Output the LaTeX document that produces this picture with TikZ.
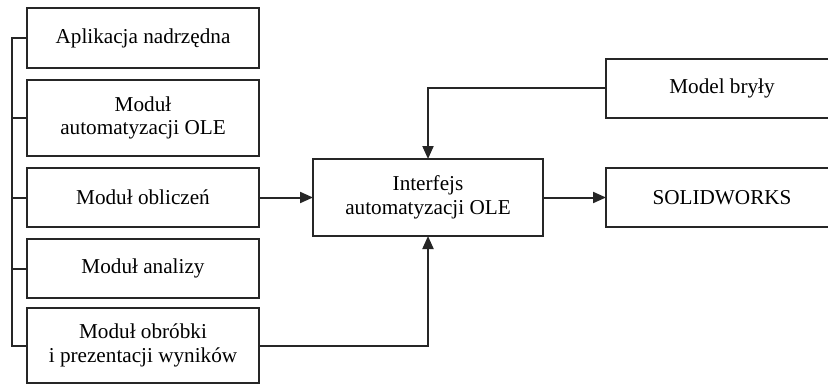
\documentclass[tikz,border=0pt]{standalone}
\usepackage{fontspec}
\setmainfont{Liberation Serif}
\usetikzlibrary{arrows.meta}
\tikzset{modbox/.style={draw=black!85, line width=1pt, fill=white, inner sep=0pt, outer sep=0pt,
    align=center, font=\fontsize{10.6}{11.8}\selectfont, minimum width=116pt},
  conn/.style={draw=black!85, line width=1pt},
  arr/.style={conn, -{Triangle[length=6.5pt,width=5.5pt]}}}

\begin{document}
\begin{tikzpicture}[x=0.5pt,y=-0.5pt]
\useasboundingbox (0,0) rectangle (828,385);
% modules on the left
\node[modbox, minimum height=30pt] (app) at (143,38) {Aplikacja nadrzędna};
\node[modbox, minimum height=38pt] (ole) at (143,118) {Moduł\\automatyzacji OLE};
\node[modbox, minimum height=29.5pt] (obl) at (143,197.5) {Moduł obliczeń};
\node[modbox, minimum height=29.5pt] (ana) at (143,268.5) {Moduł analizy};
\node[modbox, minimum height=37.5pt] (obr) at (143,345.5) {Moduł obróbki\\i prezentacji wyników};
% middle and right
\node[modbox, minimum width=115pt, minimum height=38.5pt] (intf) at (428,197.5) {Interfejs\\automatyzacji OLE};
\node[modbox, minimum height=29.5pt] (model) at (722,88.5) {Model bryły};
\node[modbox, minimum height=29.5pt] (sw) at (722,197.5) {SOLIDWORKS};

% bus
\draw[conn] (app.west) -- ++(-15,0) coordinate (bus) -- (bus |- obr.west) -- (obr.west);
\foreach \n in {ole,obl,ana}
  \draw[conn] (\n.west) -- (\n.west -| bus);

\draw[arr] (obl.east) -- (intf.west);
\draw[arr] (model.west) -| (intf.north);
\draw[arr] (obr.east) -| (intf.south);
\draw[arr] (intf.east) -- (sw.west);
\end{tikzpicture}
\end{document}
